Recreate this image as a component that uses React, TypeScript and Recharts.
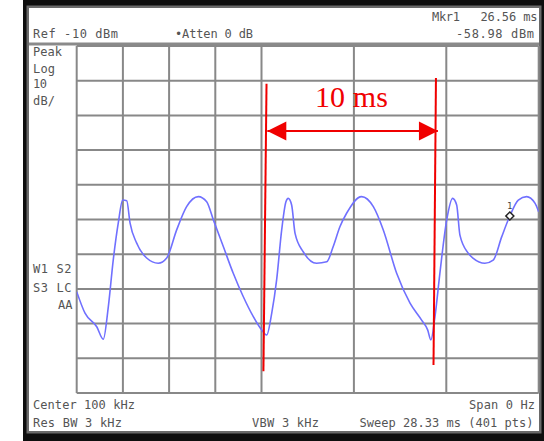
import React from 'react';
import { LineChart, Line, XAxis, YAxis, CartesianGrid, ReferenceLine, ReferenceDot } from 'recharts';

// Sweep time (ms) and trace level (dBm)
const timeMs = [
  0, 0.51, 1.23, 1.63, 1.94, 2.24, 2.55, 2.82, 3.07, 3.27, 3.68, 4.29, 5.0, 5.52, 6.13, 6.74, 7.46, 7.97,
  8.38, 8.99, 9.6, 10.21, 10.83, 11.34, 11.65, 11.96, 12.26, 12.57, 12.83, 12.97, 13.18, 13.39, 13.89,
  14.71, 15.33, 15.73, 16.14, 16.55, 17.47, 18.19, 18.8, 19.62, 20.44, 21.15, 21.52, 21.72, 21.97,
  22.27, 22.69, 23.05, 23.3, 23.5, 24.01, 24.32, 25.03, 25.54, 26.06, 26.56, 27.08, 27.59, 28.1, 28.33,
];
const levelDbm = [
  -80.8, -87.0, -90.9, -94.5, -85.1, -71.7, -61.0, -54.4, -54.6, -61.0, -66.8, -71.1, -72.6, -71.1, -63.0,
  -56.3, -53.4, -54.9, -60.1, -67.8, -75.5, -82.2, -88.0, -91.8, -93.3, -87.0, -77.4, -63.0, -54.9, -53.9,
  -55.8, -64.0, -69.3, -72.6, -72.2, -67.8, -62.1, -58.2, -53.4, -56.3, -63.0, -75.5, -84.1, -89.0, -91.8,
  -94.7, -88.0, -75.5, -60.1, -53.9, -55.8, -64.5, -69.7, -71.2, -72.6, -71.7, -65.0, -58.98, -54.4, -53.4,
  -55.3, -57.8,
];
const xTicks = [0, 2.833, 5.666, 8.499, 11.332, 14.165, 16.998, 19.831, 22.664, 25.497, 28.33];
const yTicks = [-110, -100, -90, -80, -70, -60, -50, -40, -30, -20, -10];

const marker = { t: 26.56, dbm: -58.98, label: '1' };
const markerLines = [
  { top: { t: 11.64, dbm: -20.9 }, bottom: { t: 11.45, dbm: -103.7 } },
  { top: { t: 22.03, dbm: -19.2 }, bottom: { t: 21.88, dbm: -101.9 } },
];
const arrow = { from: 11.69, to: 22.15, dbm: -34.5 };

const data = timeMs.map((t, i) => ({ t, dbm: levelDbm[i] }));

const mono = '"DejaVu Sans Mono", monospace';
const RED = '#f00000';

const ArrowHead = (dir: number) => (props: any) => {
  const { cx, cy } = props;
  if (cx == null || cy == null) return null;
  const len = 19;
  const half = 9.5;
  const pts = `${cx},${cy} ${cx + dir * len},${cy - half} ${cx + dir * len},${cy + half}`;
  return <polygon points={pts} fill={RED} />;
};

const MarkerShape = (props: any) => {
  const { cx, cy } = props;
  if (cx == null || cy == null) return null;
  return (
    <g>
      <polygon points={`${cx},${cy - 4} ${cx + 4},${cy} ${cx},${cy + 4} ${cx - 4},${cy}`} fill="#fff" stroke="#222" strokeWidth={1.5} />
      <text x={cx} y={cy - 7} textAnchor="middle" fontFamily={mono} fontSize={9} fill="#444">{marker.label}</text>
    </g>
  );
};

export default function App() {
  const t = (x: number, y: number, s: string, opts: any = {}) => (
    <text x={x} y={y} fontFamily={mono} fontSize={12} fill="#555" {...opts}>{s}</text>
  );
  return (
    <div style={{ position: 'absolute', left: 0, top: 0, width: 544, height: 441, background: '#fff', overflow: 'hidden' }}>
      <svg width={544} height={441} style={{ position: 'absolute', left: 0, top: 0 }}>
        <rect x={23} y={0} width={521} height={441} fill="#0e0e0e" />
        <rect x={26.5} y={5.5} width={515} height={428} fill="#6a6a6a" />
        <rect x={29} y={8} width={510} height={423} fill="#ffffff" />
        <line x1={29} x2={539} y1={44} y2={44} stroke="#8a8a8a" strokeWidth={3} />
      </svg>
      <div style={{ position: 'absolute', left: 0, top: 0 }}>
        <LineChart width={544} height={441} data={data} margin={{ top: 46, right: 5.3, bottom: 48, left: 76.7 }}>
          <XAxis dataKey="t" type="number" domain={[0, 28.33]} ticks={xTicks} hide allowDataOverflow />
          <YAxis type="number" domain={[-110, -10]} ticks={yTicks} hide allowDataOverflow />
          <CartesianGrid stroke="#888" strokeWidth={2} />
          <Line dataKey="dbm" type="monotone" stroke="#7070ff" strokeWidth={1.6} dot={false} isAnimationActive={false} />
          {markerLines.map((m, i) => (
            <ReferenceLine
              key={i}
              segment={[{ x: m.top.t, y: m.top.dbm }, { x: m.bottom.t, y: m.bottom.dbm }]}
              stroke={RED}
              strokeWidth={2}
            />
          ))}
          <ReferenceLine segment={[{ x: arrow.from, y: arrow.dbm }, { x: arrow.to, y: arrow.dbm }]} stroke={RED} strokeWidth={2.2} />
          <ReferenceDot x={arrow.from} y={arrow.dbm} shape={ArrowHead(1)} />
          <ReferenceDot x={arrow.to} y={arrow.dbm} shape={ArrowHead(-1)} />
          <ReferenceDot x={marker.t} y={marker.dbm} shape={MarkerShape} />
        </LineChart>
      </div>
      <svg width={544} height={441} style={{ position: 'absolute', left: 0, top: 0, pointerEvents: 'none' }}>
        {t(33, 37.5, 'Ref -10 dBm', { textLength: 85 })}
        {t(175, 37.5, '•Atten 0 dB', { textLength: 78 })}
        {t(432, 20.5, 'Mkr1', { textLength: 28 })}
        {t(480.5, 20.5, '26.56 ms', { textLength: 57 })}
        {t(456, 37.5, '-58.98 dBm', { textLength: 78 })}
        {t(33, 55.5, 'Peak', { textLength: 29 })}
        {t(33, 72.5, 'Log', { textLength: 22 })}
        {t(33, 88, '10', { textLength: 14 })}
        {t(33, 105, 'dB/', { textLength: 22 })}
        {t(33, 273, 'W1 S2', { textLength: 38.5 })}
        {t(33, 291.5, 'S3 LC', { textLength: 38.5 })}
        {t(72.5, 309, 'AA', { textAnchor: 'end' })}
        {t(33, 409, 'Center 100 kHz', { textLength: 102 })}
        {t(33, 427, 'Res BW 3 kHz', { textLength: 89 })}
        {t(252, 427, 'VBW 3 kHz', { textLength: 67 })}
        {t(469, 409, 'Span 0 Hz', { textLength: 66 })}
        {t(359.5, 427, 'Sweep 28.33 ms (401 pts)', { textLength: 174 })}
        <text x={315} y={106.5} fontFamily='"Liberation Serif", "Times New Roman", serif' fontSize={30} fill={RED} textLength={73}>10 ms</text>
      </svg>
    </div>
  );
}
